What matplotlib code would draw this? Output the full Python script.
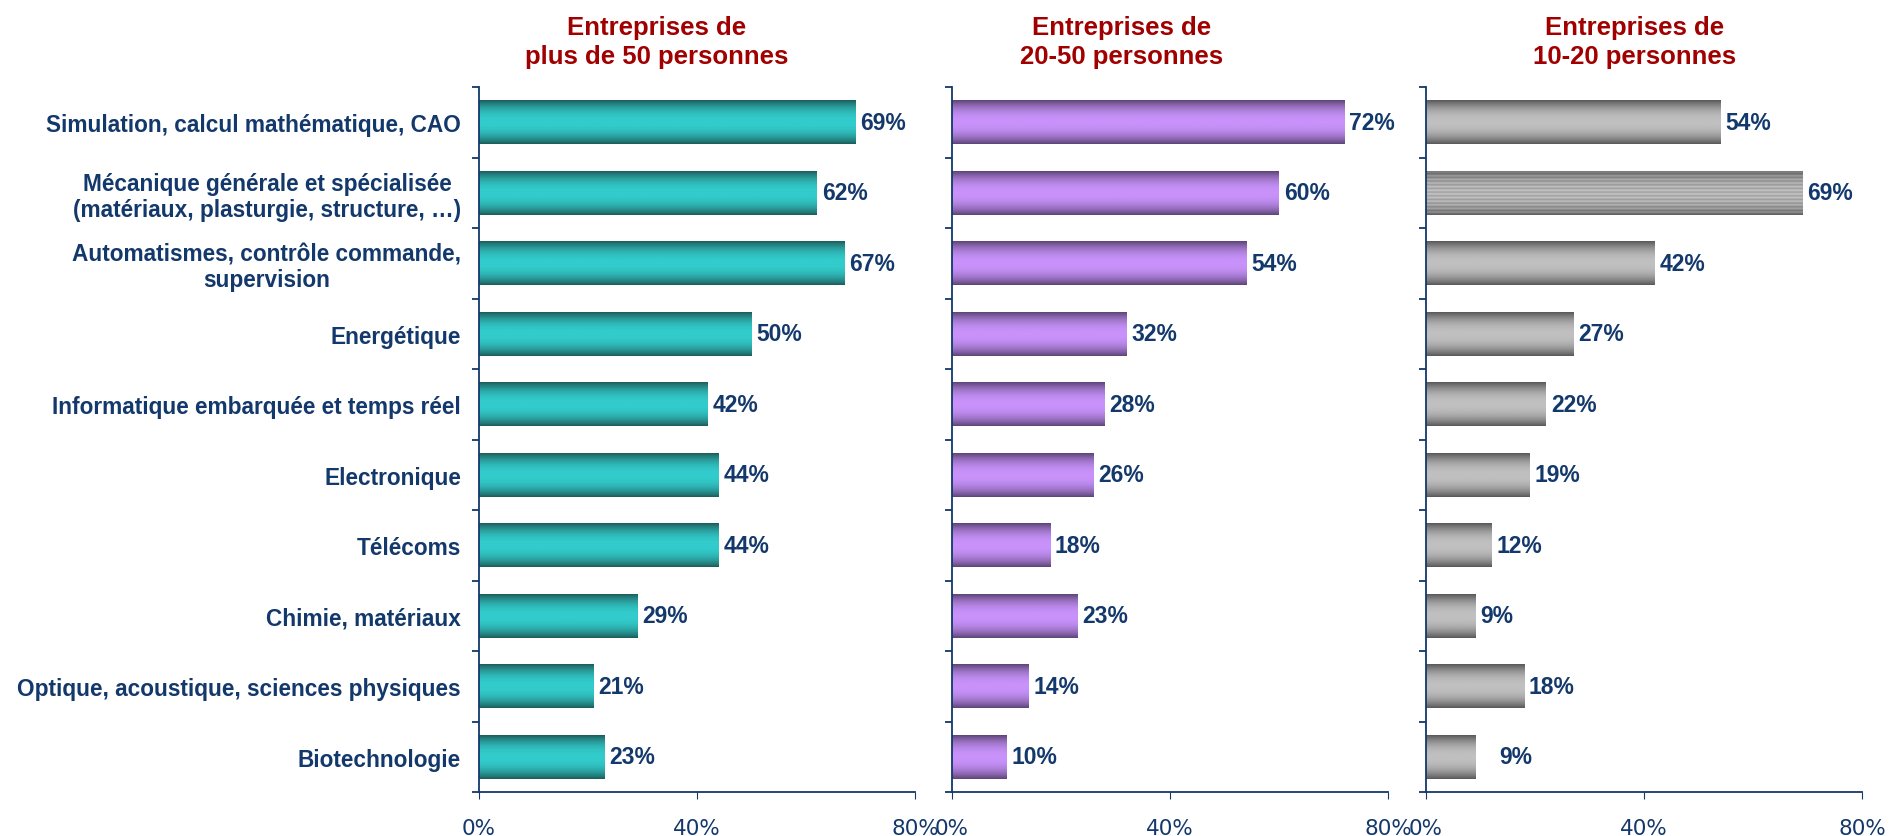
import numpy as np
import matplotlib.pyplot as plt
from matplotlib.colors import LinearSegmentedColormap

plt.rcParams['font.family'] = ['Liberation Sans', 'DejaVu Sans']

categories = [
    "Simulation, calcul mathématique, CAO",
    "Mécanique générale et spécialisée\n(matériaux, plasturgie, structure, …)",
    "Automatismes, contrôle commande,\nsupervision",
    "Energétique",
    "Informatique embarquée et temps réel",
    "Electronique",
    "Télécoms",
    "Chimie, matériaux",
    "Optique, acoustique, sciences physiques",
    "Biotechnologie",
]
title_top = "Entreprises de"
title_sub = ["plus de 50 personnes", "20-50 personnes", "10-20 personnes"]
plus_50 = [69, 62, 67, 50, 42, 44, 44, 29, 21, 23]
de_20_50 = [72, 60, 54, 32, 28, 26, 18, 23, 14, 10]
de_10_20 = [54, 69, 42, 27, 22, 19, 12, 9, 18, 9]
xticks = [0, 40, 80]

NAVY = '#13386B'
RED = '#A00000'

# (edge colour, centre colour) of each panel's shaded bars
shades = [('#1C5C5A', '#33CCCC'), ('#5C4476', '#C892FA'), ('#575757', '#C0C0C0')]
# extra gap (points) before some value labels
label_shift = [{}, {}, {9: 14}]
lefts = [479, 952, 1426]
title_x = [657, 1122, 1635]

W, H = 1901, 837
fig = plt.figure(figsize=(W / 100, H / 100), dpi=100)

t = np.linspace(-1, 1, 240)
profile = 1 - np.abs(t) ** 2.2


def shaded(ax, bar, c0, c1, striped=False):
    prof = profile.copy()
    if striped:
        prof = np.clip(0.12 + 0.62 * profile + 0.17 * np.sin(2 * np.pi * 6 * t), 0, 1)
    cmap = LinearSegmentedColormap.from_list('g', [c0, c1])
    x0, y0 = bar.get_x(), bar.get_y()
    w, h = bar.get_width(), bar.get_height()
    im = ax.imshow(prof[:, None], cmap=cmap, vmin=0, vmax=1, aspect='auto',
                   extent=[x0, x0 + w, y0 + h, y0], interpolation='bilinear', zorder=2)
    im.set_clip_path(bar)


for k, vals in enumerate([plus_50, de_20_50, de_10_20]):
    ax = fig.add_axes([lefts[k] / W, 1 - 793 / H, 436 / W, 705 / H])
    y = np.arange(len(categories))
    bars = ax.barh(y, vals, height=0.62, color='none', edgecolor='none')
    for i, b in enumerate(bars):
        striped = (k == 2 and i == 1)
        c0, c1 = shades[k]
        if striped:
            c0, c1 = '#5E5E5E', '#D2D2D2'
        shaded(ax, b, c0, c1, striped)
        ax.annotate(f'{vals[i]}%', (vals[i], y[i]), xytext=(3.5 + label_shift[k].get(i, 0), 0),
                    textcoords='offset points', va='center', ha='left',
                    fontsize=16.5, fontweight='bold', color=NAVY)
    ax.set_xlim(0, 80)
    ax.set_ylim(len(categories) - 0.5, -0.5)
    for s in ['top', 'right']:
        ax.spines[s].set_visible(False)
    for s in ['left', 'bottom']:
        ax.spines[s].set_color(NAVY)
        ax.spines[s].set_linewidth(1.3)
    ax.set_xticks(xticks)
    ax.set_xticklabels([f'{v}%' for v in xticks], family='DejaVu Sans')
    ax.tick_params(axis='x', direction='out', length=5, color=NAVY, labelcolor=NAVY,
                   labelsize=15.5, pad=14)
    ax.set_yticks(y)
    ax.set_yticks(np.arange(-0.5, len(categories)), minor=True)
    ax.tick_params(axis='y', which='major', length=0, pad=13)
    ax.tick_params(axis='y', which='minor', direction='out', length=5, color=NAVY, width=1.3)
    if k == 0:
        ax.set_yticklabels(categories, fontsize=16.3, fontweight='bold', color=NAVY,
                           multialignment='center', linespacing=1.15)
    else:
        ax.set_yticklabels([])
    for line, yy in [(title_top, 28), (title_sub[k], 57)]:
        fig.text(title_x[k] / W, 1 - yy / H, line, ha='center', va='center',
                 fontsize=18.5, fontweight='bold', color=RED)

fig.savefig('out.png', dpi=100)
